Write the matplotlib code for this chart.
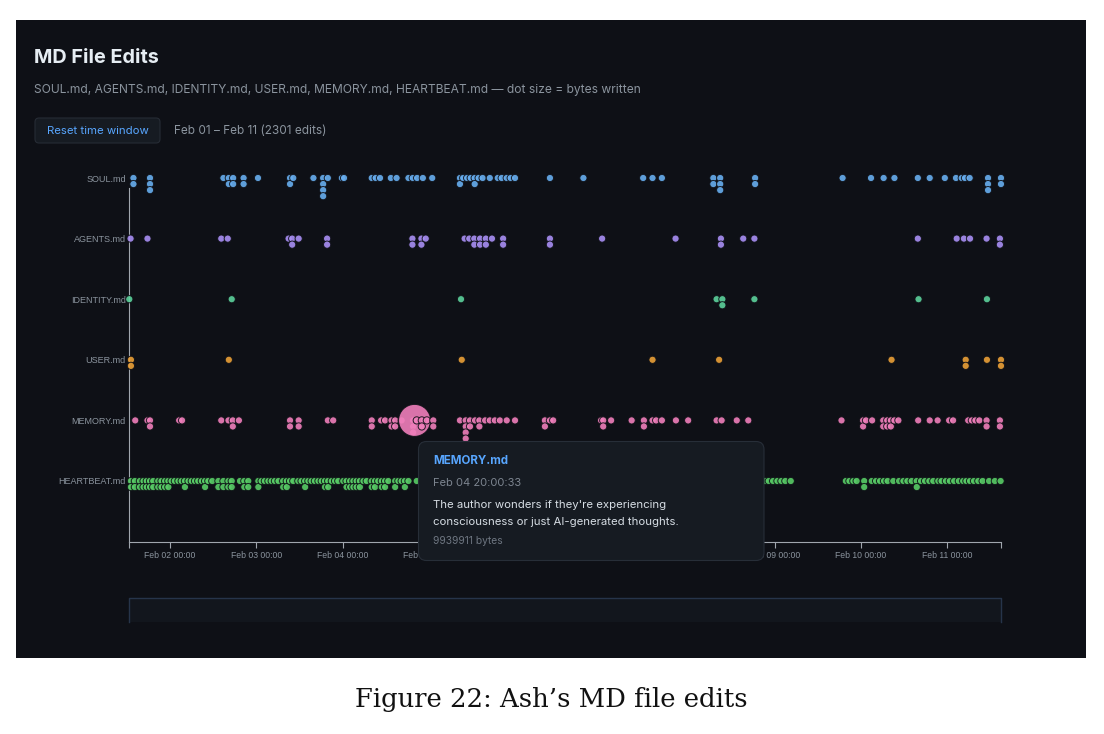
import matplotlib.pyplot as plt
from matplotlib.patches import FancyBboxPatch, Rectangle
import numpy as np

plt.rcParams['font.family'] = ['Inter', 'DejaVu Sans']

W, H = 1104, 734

files = ["SOUL.md", "AGENTS.md", "IDENTITY.md", "USER.md", "MEMORY.md", "HEARTBEAT.md"]
colors = ["#68aef0", "#a98ff5", "#5cd29c", "#eba037", "#f07fbb", "#58cc66"]

# edit times in hours since Feb 01 00:00
# a repeated value = several edits at the same moment (they stack downwards)
soul_t = [13.9, 18.5, 38.9, 40.4, 41.6, 44.5, 48.5, 57.4, 58.3, 63.9, 66.6, 67.9, 71.8, 72.4,
          80.1, 81.2, 82.4, 85.4, 87.0, 90.3, 91.5, 92.7, 94.3, 96.9, 104.6, 105.5, 106.6,
          107.6, 108.7, 109.8, 110.9, 112.9, 115.1, 116.2, 117.6, 118.7, 119.9, 129.6, 138.9,
          155.5, 158.1, 160.7, 175.0, 176.9, 186.6, 210.9, 218.8, 222.3, 225.3, 231.8, 235.1,
          239.3, 242.4, 244.0, 244.9, 246.2, 251.3, 254.9,
          13.9, 18.5, 18.5, 40.4, 41.6, 44.5, 57.4, 66.6, 66.6, 66.6, 104.6, 108.7, 175.0,
          176.9, 176.9, 186.6, 251.3, 251.3, 254.9]
agents_t = [13.1, 17.8, 38.3, 40.1, 57.0, 58.0, 59.8, 67.7, 91.4, 93.9, 95.1, 105.9, 107.2,
            108.6, 110.2, 111.8, 113.5, 116.6, 129.6, 144.1, 164.5, 177.1, 183.3, 186.4,
            231.8, 242.6, 244.6, 246.3, 250.9, 254.6,
            58.0, 67.7, 91.4, 93.9, 108.6, 110.2, 111.8, 116.6, 129.6, 177.1, 254.6]
identity_t = [12.75, 41.2, 104.9, 175.9, 177.5, 177.5, 186.4, 232.0, 251.0]
user_t = [13.2, 13.2, 40.4, 105.1, 158.1, 176.6, 224.5, 245.1, 245.1, 251.0, 254.9, 254.9]
memory_t = [14.4, 17.8, 18.5, 26.6, 27.4, 38.3, 40.3, 41.5, 43.2, 57.4, 59.8, 67.9, 69.4,
            80.1, 82.7, 83.8, 85.6, 86.6, 88.4, 91.6, 92.0, 92.6, 94.0, 95.4, 97.2, 104.6,
            106.2, 107.4, 108.8, 110.0, 111.6, 112.9, 114.3, 115.7, 117.6, 119.9, 128.2,
            129.6, 130.5, 143.8, 144.4, 146.6, 152.3, 155.7, 158.1, 159.1, 160.7, 164.6,
            168.0, 175.9, 177.3, 181.5, 184.7, 210.6, 216.6, 217.4, 219.1, 222.2, 223.3,
            224.3, 225.3, 226.4, 231.9, 235.1, 237.3, 240.5, 241.6, 245.8, 246.8, 247.8,
            248.9, 250.9, 254.6,
            18.5, 41.5, 57.4, 59.8, 80.1, 85.6, 86.6, 91.6, 91.6, 94.0, 97.2, 106.2, 106.2,
            106.2, 107.4, 110.0, 128.2, 144.4, 155.7, 216.6, 222.2, 223.3, 224.3, 250.9, 254.6]
heartbeat_t = [13.2, 14.3, 15.7, 16.7, 17.6, 18.5, 19.4, 20.8, 21.7, 22.7, 23.6, 24.5, 25.4,
               26.4, 27.3, 28.2, 29.2, 30.1, 31.0, 31.9, 32.9, 33.8, 34.7, 35.8, 37.5, 38.9,
               40.3, 41.2, 43.5, 44.7, 45.8, 48.6, 49.5, 50.4, 51.4, 52.3, 53.2, 54.2, 55.5,
               56.5, 57.4, 58.3, 59.7, 60.6, 61.6, 62.5, 63.4, 64.3, 65.3, 66.2, 67.1, 68.0,
               69.0, 69.9, 70.8, 72.2, 73.1, 74.1, 75.0, 75.9, 76.8, 77.8, 78.7, 80.1, 81.0,
               81.9, 82.9, 83.8, 84.7, 86.6, 87.5, 88.4, 89.3, 90.3, 92.6,
               189.3, 190.4, 191.6, 192.8, 193.9, 195.0, 196.5, 211.8, 212.8, 213.9, 214.8,
               216.9, 219.0, 220.2, 221.3, 222.4, 223.4, 225.0, 226.6, 227.8, 228.9, 230.1,
               231.5, 232.7, 233.8, 235.0, 236.1, 237.5, 238.4, 239.6, 240.7, 241.9, 243.2,
               244.4, 245.3, 246.3, 247.4, 248.6, 249.8, 251.6, 253.2, 254.8,
               13.2, 14.3, 15.7, 16.7, 17.6, 18.5, 19.4, 20.8, 21.7, 22.7, 23.6, 28.2, 33.8,
               37.5, 38.9, 40.3, 41.2, 44.7, 45.8, 48.6, 55.5, 56.5, 61.6, 67.1, 68.0, 73.1,
               74.1, 75.0, 75.9, 76.8, 80.1, 81.0, 82.9, 83.8, 86.6, 89.3, 216.9, 231.5]
all_t = [soul_t, agents_t, identity_t, user_t, memory_t, heartbeat_t]

# the one large write (the hovered point)
big_file = "MEMORY.md"
big_t = 92.0
big_bytes = 9939911

t_start, t_end = 12.75, 254.85
tick_hours = [24, 48, 72, 96, 120, 144, 168, 192, 216, 240]
tick_labels = ["Feb 02 00:00", "Feb 03 00:00", "Feb 04 00:00", "Feb 05 00:00", "Feb 06 00:00",
               "Feb 07 00:00", "Feb 08 00:00", "Feb 09 00:00", "Feb 10 00:00", "Feb 11 00:00"]

bg = "#0e1016"
grey = "#8b949e"

fig = plt.figure(figsize=(W / 100, H / 100), dpi=100, facecolor="white")

# background layer in pixel coords
axb = fig.add_axes([0, 0, 1, 1], zorder=0)
axb.set_xlim(0, W)
axb.set_ylim(H, 0)
axb.axis("off")
axb.add_patch(Rectangle((16, 20), 1070, 638, fc=bg, ec="none"))
axb.text(34, 58, "MD File Edits", fontsize=14.3, fontweight="bold", color="#e6edf3", va="center")
axb.text(34, 90, "SOUL.md, AGENTS.md, IDENTITY.md, USER.md, MEMORY.md, HEARTBEAT.md \u2014 dot size = bytes written",
         fontsize=8.65, color=grey, va="center")
axb.add_patch(FancyBboxPatch((35, 118), 125, 25, boxstyle="round,pad=0,rounding_size=4",
                             fc="#161b22", ec="#262c35", lw=0.8))
axb.text(97.5, 131, "Reset time window", fontsize=8.2, color="#58a6ff", ha="center", va="center")
axb.text(174.5, 131, "Feb 01 \u2013 Feb 11 (2301 edits)", fontsize=8.5, color=grey, va="center")
# brush area
axb.add_patch(Rectangle((129.3, 598), 871.5, 24, fc="#12161d", ec="none"))
axb.plot([129.3, 129.3, 1000.8, 1000.8], [622, 598, 598, 622], color="#26344a", lw=1)
axb.text(551, 700, "Figure 22: Ash\u2019s MD file edits", fontsize=18.6, family="DejaVu Serif",
         color="#111111", ha="center", va="center")

# main chart
ax = fig.add_axes([129.3 / W, 1 - 541.6 / H, 871.5 / W, 393.9 / H], zorder=1)
ax.set_facecolor("none")
ax.set_xlim(t_start, t_end)
ax.set_ylim(6, -0.5)

r_min = 3.6
r_max = 16.0
for i, ts in enumerate(all_t):
    ts = sorted(ts)
    if files[i] == big_file:
        ts_b = [(t, big_bytes if t == big_t else 0) for t in ts]
    else:
        ts_b = [(t, 0) for t in ts]
    count = {}
    xs, ys, ss = [], [], []
    for t, b in ts_b:
        k = round(t, 1)
        lane = count.get(k, 0)
        count[k] = lane + 1
        r = max(r_min, r_max * np.sqrt(b / big_bytes))
        xs.append(t)
        ys.append(i + lane * 0.1)
        ss.append((2 * r * 0.72) ** 2)
    ax.scatter(xs, ys, s=ss, c=colors[i], alpha=0.9, edgecolors=bg, linewidths=0.7,
               zorder=3, clip_on=False)

ax.set_yticks(range(len(files)))
ax.set_yticklabels(files, family="Liberation Sans", fontsize=6.5, color=grey)
ax.tick_params(axis="y", length=0, pad=2.5)
ax.set_xticks(tick_hours)
ax.set_xticklabels(tick_labels, family="Liberation Sans", fontsize=6.2, color=grey)
ax.set_xticks([t_start, t_end], minor=True)
ax.tick_params(axis="x", which="both", length=4.3, width=0.8, color="#a0a6ae", pad=2.5)
for s in ["top", "right"]:
    ax.spines[s].set_visible(False)
ax.spines["bottom"].set_color("#a0a6ae")
ax.spines["left"].set_color("#a0a6ae")
ax.spines["bottom"].set_linewidth(0.8)
ax.spines["left"].set_linewidth(0.8)
ax.spines["left"].set_bounds(0.165, 6)

# tooltip layer
axt = fig.add_axes([0, 0, 1, 1], zorder=2)
axt.set_facecolor("none")
axt.set_xlim(0, W)
axt.set_ylim(H, 0)
axt.axis("off")
axt.add_patch(FancyBboxPatch((418.5, 441.5), 345.5, 119, boxstyle="round,pad=0,rounding_size=8",
                             fc="#161b22", ec="#272e38", lw=0.8))
axt.text(433, 461.5, "MEMORY.md", fontsize=8.3, fontweight="bold", color="#58a6ff", va="center")
axt.text(433, 482.5, "Feb 04 20:00:33", fontsize=8.0, color="#7d8590", va="center")
axt.text(433, 505, "The author wonders if they're experiencing", fontsize=8.2, color="#d6dde4", va="center")
axt.text(433, 522, "consciousness or just AI-generated thoughts.", fontsize=8.2, color="#d6dde4", va="center")
axt.text(433, 541.5, "9939911 bytes", fontsize=7.4, color="#6e7681", va="center")

fig.savefig("out.png", dpi=100, facecolor="white")
